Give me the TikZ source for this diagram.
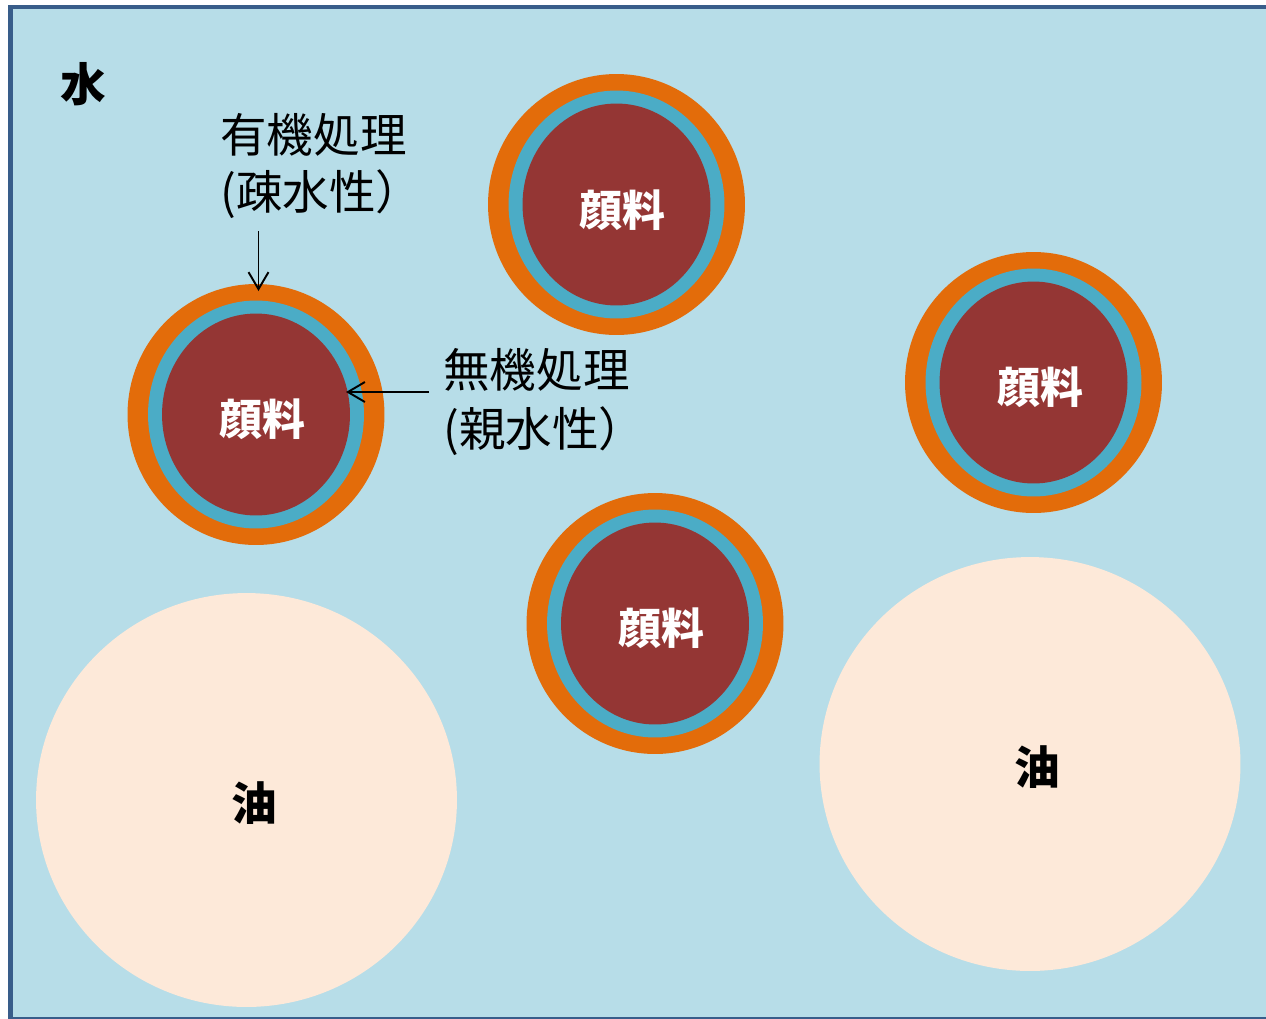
\documentclass[tikz,border=0pt]{standalone}
\usepackage{fontspec}
\newfontfamily\cjk{Noto Sans CJK JP}
\usetikzlibrary{arrows.meta,shapes.geometric}
\definecolor{waterc}{HTML}{B7DDE8}
\definecolor{framec}{HTML}{385D8A}
\definecolor{shellorange}{HTML}{E36C0A}
\definecolor{shellteal}{HTML}{4BACC6}
\definecolor{corered}{HTML}{943634}
\definecolor{oilc}{HTML}{FDE9D9}
\tikzset{
  orangeshell/.style={ellipse, fill=shellorange, minimum width=5.14cm, minimum height=5.22cm, inner sep=0pt},
  tealshell/.style={ellipse, fill=shellteal, minimum width=4.32cm, minimum height=4.56cm, inner sep=0pt},
  coreshell/.style={ellipse, fill=corered, minimum width=3.76cm, minimum height=4.04cm, inner sep=0pt},
  coretext/.style={text=white, inner sep=0pt, font=\cjk\bfseries\fontsize{24.4pt}{28pt}\selectfont},
  oildrop/.style={ellipse, fill=oilc, minimum width=8.42cm, minimum height=8.28cm, inner sep=0pt},
  boldlabel/.style={inner sep=0pt, font=\cjk\bfseries\fontsize{26pt}{30pt}\selectfont},
  notelabel/.style={inner sep=0pt, anchor=base west, font=\cjk\fontsize{26.5pt}{32pt}\selectfont},
  pointer/.style={-{Straight Barb[length=0.34cm,width=0.4cm]}, line width=1.1pt},
}
\begin{document}
\begin{tikzpicture}[x=0.02cm,y=-0.02cm]
\useasboundingbox (0,0) rectangle (1266,1018);
\clip (0,0) rectangle (1266,1018);
\fill[white] (0,0) rectangle (1266,1018);
\draw[fill=waterc, draw=framec, line width=0.09cm] (10.3,7) rectangle (1300,1019.5);

% oil droplets
\node[oildrop] (oilL) at (246.5,800) {};
\node[boldlabel] (oilLt) at (254,803) {油};
\node[oildrop] (oilR) at (1030,764) {};
\node[boldlabel] (oilRt) at (1037,767) {油};

% pigment particles
\foreach \n/\cx/\cy in {p1/256/414.5, p2/616.5/204.5, p3/1033.5/382.5, p4/655/623.5}{
  \node[orangeshell] (\n o) at (\cx,\cy) {};
  \node[tealshell] (\n t) at (\cx,\cy) {};
  \node[coreshell] (\n r) at (\cx,\cy) {};
}
\node[coretext] (p1l) at (262,419) {顔料};
\node[coretext] (p2l) at (622,210) {顔料};
\node[coretext] (p3l) at (1040,387) {顔料};
\node[coretext] (p4l) at (661,628) {顔料};

% labels
\node[boldlabel] (water) at (83.5,84) {水};
\node[notelabel] (org1) at (220,152) {有機処理};
\node[notelabel] (org2) at (220,209) {(疎水性）};
\node[notelabel] (inorg1) at (443,387) {無機処理};
\node[notelabel] (inorg2) at (443,446) {(親水性）};

% pointers
\coordinate (a1s) at (258.5,231);
\coordinate (a1e) at (258.5,291);
\coordinate (a2s) at (429,392);
\coordinate (a2e) at (346,392);
\draw[pointer] (a1s) -- (a1e);
\draw[pointer] (a2s) -- (a2e);
\end{tikzpicture}
\end{document}
